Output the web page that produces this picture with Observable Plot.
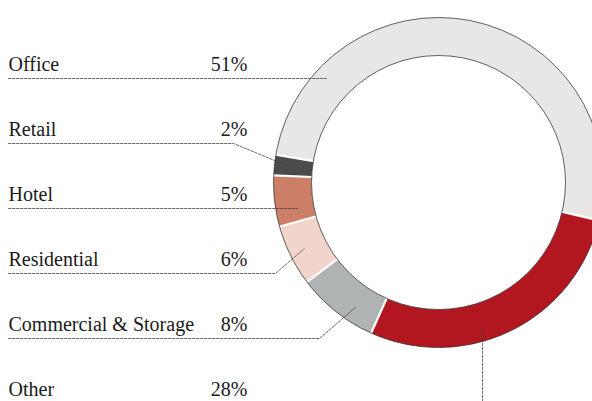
<!DOCTYPE html>
<html><head><meta charset="utf-8">
<script src="https://cdn.jsdelivr.net/npm/d3@7"></script>
<script src="https://cdn.jsdelivr.net/npm/@observablehq/plot@0.6"></script>
<style>
html,body{margin:0;padding:0;background:#fff;overflow:hidden}
#chart svg{display:block}
</style>
</head><body><div id="chart"></div>
<script>
// ---- data ----
const categories = ["Office", "Retail", "Hotel", "Residential", "Commercial & Storage", "Other"];
const shares = [51, 2, 5, 6, 8, 28];
const shareLabels = ["51%", "2%", "5%", "6%", "8%", "28%"];
const colors = ["#e8e7e5", "#4b4b4b", "#cc7f66", "#f1d5ca", "#b0b3b3", "#b2161f"];

// ---- layout ----
const W = 592, H = 401;
const cx = 438, cy = 182, R = 165, r0 = 127;
const startDeg = 103.3;            // Office begins here, slices run counter-clockwise
const rowTop = 78, rowStep = 65;   // dotted underline rows
const labelX = 8, valueX = 247;
const leaderAngle = [312.9, 276.1, 259.5, 243.7, 213.6, 163.2];
const leaderRadius = [153, 150, 143, 150, 150, 152.5];
const leaderElbow = [null, 233, null, 275, 319, null];

const rad = d => d * Math.PI / 180;
const polar = (a, rr) => [cx + rr * Math.sin(a), cy - rr * Math.cos(a)];

const rows = categories.map((c, i) => ({category: c, share: shares[i], label: shareLabels[i], i}));
const a0 = rad(startDeg);
const arcs = d3.pie().sort(null).value(d => d.share).startAngle(a0).endAngle(a0 - 2 * Math.PI)(rows);

// slice polygons
const slicePts = [];
for (const a of arcs) {
  const n = Math.max(4, Math.ceil(Math.abs(a.endAngle - a.startAngle) / rad(1)));
  const ring = [];
  for (let k = 0; k <= n; k++) ring.push(polar(a.startAngle + (a.endAngle - a.startAngle) * k / n, R));
  for (let k = n; k >= 0; k--) ring.push(polar(a.startAngle + (a.endAngle - a.startAngle) * k / n, r0));
  ring.push(ring[0]);
  for (const [x, y] of ring) slicePts.push({category: a.data.category, x, y});
}

// separators
const seps = arcs.map(a => {
  const [x1, y1] = polar(a.startAngle, r0 - 0.5);
  const [x2, y2] = polar(a.startAngle, R + 0.5);
  return {x1, y1, x2, y2};
});

// leaders
const leaderPts = [];
rows.forEach((d, i) => {
  const y = rowTop + rowStep * i;
  const [ax, ay] = polar(rad(leaderAngle[i]), leaderRadius[i]);
  const ex = leaderElbow[i] == null ? ax : leaderElbow[i];
  leaderPts.push({category: d.category, x: labelX, y});
  leaderPts.push({category: d.category, x: ex, y});
  leaderPts.push({category: d.category, x: ax, y: ay});
});

const textRows = rows.map((d, i) => ({...d, y: rowTop + rowStep * i - 8}));

const chart = Plot.plot({
  width: W, height: H, margin: 0,
  x: {domain: [0, W], range: [0, W], axis: null},
  y: {domain: [0, H], range: [0, H], axis: null},
  color: {domain: categories, range: colors},
  style: {fontFamily: "'Liberation Serif', 'Times New Roman', serif", background: "white", color: "#1a1a1a"},
  marks: [
    Plot.line(slicePts, {x: "x", y: "y", z: "category", fill: "category", stroke: "none", curve: "linear"}),
    Plot.link(seps, {x1: "x1", y1: "y1", x2: "x2", y2: "y2", stroke: "white", strokeWidth: 2.2}),
    Plot.dot([0], {x: () => cx, y: () => cy, r: R, fill: "none", stroke: "#3a3a3a", strokeWidth: 0.8}),
    Plot.dot([0], {x: () => cx, y: () => cy, r: r0, fill: "none", stroke: "#3a3a3a", strokeWidth: 0.8}),
    Plot.line(leaderPts, {x: "x", y: "y", z: "category", stroke: "#444", strokeWidth: 0.8, strokeDasharray: "2.5,1.5", curve: "linear"}),
    Plot.text(textRows, {x: () => labelX, y: "y", text: "category", textAnchor: "start", lineAnchor: "bottom", fontSize: 20, fill: "#1a1a1a"}),
    Plot.text(textRows, {x: () => valueX, y: "y", text: "label", textAnchor: "end", lineAnchor: "bottom", fontSize: 20, fill: "#1a1a1a"})
  ]
});
document.getElementById("chart").appendChild(chart);
</script>
</body></html>
